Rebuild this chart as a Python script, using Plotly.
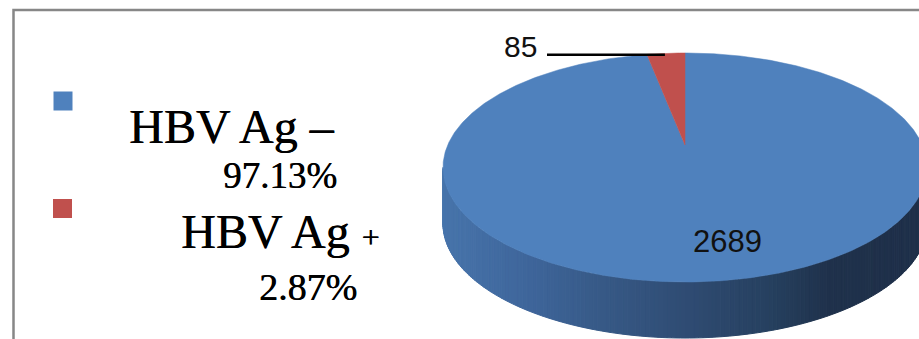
import numpy as np
import plotly.graph_objects as go

# ---------------- data ----------------
categories = ["HBV Ag –", "HBV Ag +"]
values = [2689, 85]
percent_labels = ["97.13%", "2.87%"]
slice_colors = ["#4F81BD", "#C0504D"]

# ---------------- geometry / style ----------------
W, H = 919, 339
CX, CY = 685.0, 145.0      # projected pie centre (pixels)
A, B, K = 237.3, 110.1, 0.1965   # perspective projection params
DEPTH = 56.0               # side thickness (pixels)


def proj(theta, r=1.0, dy=0.0):
    """theta: clockwise from 12 o'clock (radians)."""
    u = r * np.sin(theta)
    v = r * np.cos(theta)
    w = 1.0 + K * v
    return CX + A * u / w, CY - B * v / w + dy


def lerp_color(c1, c2, t):
    a = [int(c1[i:i + 2], 16) for i in (1, 3, 5)]
    b = [int(c2[i:i + 2], 16) for i in (1, 3, 5)]
    m = [round(a[i] + (b[i] - a[i]) * t) for i in range(3)]
    return "#%02x%02x%02x" % tuple(m)


def side_color(x):
    stops = [(443, "#4774AB"), (530, "#3E659A"), (610, "#365884"),
             (690, "#2F4B72"), (770, "#26405F"), (830, "#1F314B"), (1000, "#1E2F48")]
    for (x0, c0), (x1, c1) in zip(stops[:-1], stops[1:]):
        if x <= x1:
            t = 0 if x1 == x0 else max(0.0, min(1.0, (x - x0) / (x1 - x0)))
            return lerp_color(c0, c1, t)
    return stops[-1][1]


fig = go.Figure()

# ---- side wall (front half, gradient strips) ----
total = float(sum(values))
ths = np.linspace(0, 2 * np.pi, 3601)
xs, _ = proj(ths)
th_left = ths[np.argmin(xs)]
th_right = ths[np.argmax(xs)]
front = np.linspace(th_right, th_left, 181)
for t0, t1 in zip(front[:-1], front[1:]):
    x0, y0 = proj(t0)
    x1, y1 = proj(t1)
    col = side_color((x0 + x1) / 2)
    fig.add_trace(go.Scatter(
        x=[x0, x1, x1, x0, x0], y=[y0, y1, y1 + DEPTH, y0 + DEPTH, y0],
        mode="lines", fill="toself", fillcolor=col,
        line=dict(color=col, width=1), hoverinfo="skip", showlegend=False))

# ---- top face slices ----
start = 0.0
mids = []
for val, col, name in zip(values, slice_colors, categories):
    ang = 2 * np.pi * val / total
    t = np.linspace(start, start + ang, max(8, int(720 * val / total)))
    px, py = proj(t)
    fig.add_trace(go.Scatter(
        x=np.concatenate([[CX], px, [CX]]), y=np.concatenate([[CY], py, [CY]]),
        mode="lines", fill="toself", fillcolor=col, line=dict(color=col, width=0.5),
        name=name, hoverinfo="skip", showlegend=False))
    mids.append(start + ang / 2)
    start += ang

# ---- data labels ----
# small slice: leader line from its mid-edge to the label
lx, ly = proj(mids[1])
fig.add_trace(go.Scatter(x=[547, lx - 1], y=[ly + 1.5, ly + 1.5], mode="lines",
                         line=dict(color="black", width=2.5), hoverinfo="skip",
                         showlegend=False))
fig.add_annotation(x=539, y=46, text=str(values[1]), showarrow=False,
                   xanchor="right", yanchor="middle",
                   font=dict(family="Liberation Sans", size=30, color="#111111"))
fig.add_annotation(x=727, y=241, text=str(values[0]), showarrow=False,
                   xanchor="center", yanchor="middle",
                   font=dict(family="Liberation Sans", size=31, color="#111111"))

# ---- legend markers ----
fig.add_trace(go.Scatter(x=[63, 62.5], y=[101, 208.5], mode="markers",
                         marker=dict(symbol="square", size=19, color=slice_colors),
                         hoverinfo="skip", showlegend=False))

# ---- legend texts ----
serif = "Liberation Serif"
heavy = "0.5px 0px 0px #000000"
fig.add_annotation(x=127, y=126, text=categories[0], showarrow=False,
                   xanchor="left", yanchor="middle",
                   font=dict(family=serif, size=48, color="black", shadow=heavy))
fig.add_annotation(x=221, y=175, text=percent_labels[0], showarrow=False,
                   xanchor="left", yanchor="middle",
                   font=dict(family=serif, size=37, color="black", shadow=heavy))
fig.add_annotation(x=179, y=231,
                   text=categories[1][:-1] + "<span style='font-size:32px'>" + categories[1][-1] + "</span>",
                   showarrow=False, xanchor="left", yanchor="middle",
                   font=dict(family=serif, size=48, color="black", shadow=heavy))
fig.add_annotation(x=257, y=287, text=percent_labels[1], showarrow=False,
                   xanchor="left", yanchor="middle",
                   font=dict(family=serif, size=38, color="black", shadow=heavy))

# ---- chart border ----
fig.add_shape(type="rect", x0=13.5, y0=10, x1=W + 20, y1=H + 20,
              line=dict(color="#878787", width=2.5), layer="above")

fig.update_layout(
    width=W, height=H, margin=dict(l=0, r=0, t=0, b=0),
    paper_bgcolor="white", plot_bgcolor="white",
    xaxis=dict(range=[0, W], visible=False, fixedrange=True),
    yaxis=dict(range=[H, 0], visible=False, fixedrange=True),
    showlegend=False,
)
fig.write_html("out.html")
